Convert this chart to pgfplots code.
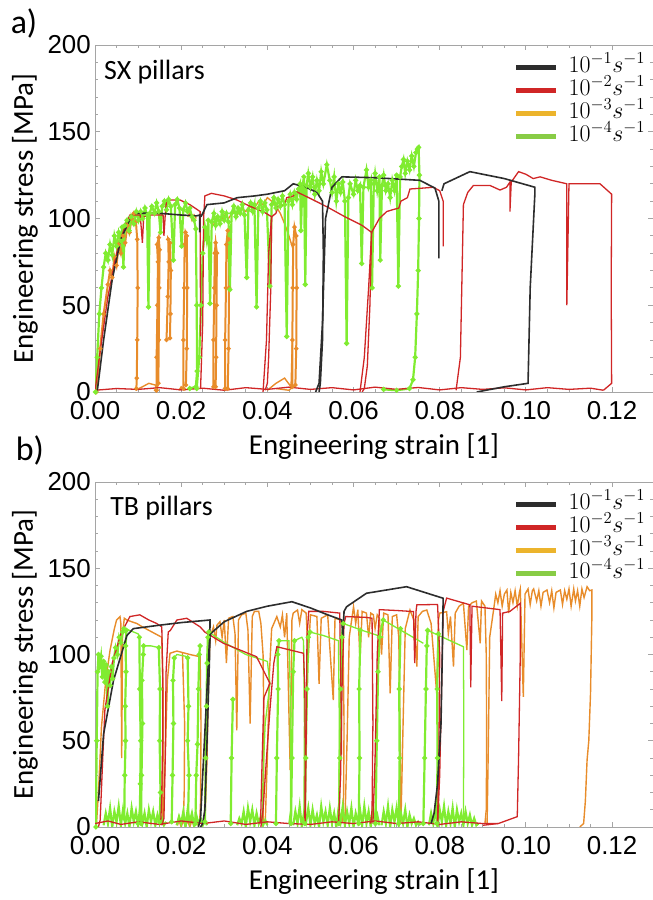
\RequirePackage{fix-cm}
\documentclass[border=0pt]{standalone}
\usepackage{fontspec}
\setmainfont{Carlito}
\newfontfamily\tickfont{Liberation Sans}
\usepackage{pgfplots}
\pgfplotsset{compat=1.18}

\definecolor{cblk}{RGB}{45,45,45}
\definecolor{cred}{RGB}{208,38,38}
\definecolor{corg}{RGB}{232,140,42}
\definecolor{cgrn}{RGB}{128,236,48}
\definecolor{lorg}{RGB}{236,180,44}
\definecolor{lgrn}{RGB}{136,204,70}
\definecolor{frm}{RGB}{165,165,165}

\pgfplotsset{
  panel/.style={
    scale only axis, width=558bp, xmin=0, xmax=0.1295, ymin=0, ymax=200,
    xtick={0,0.02,...,0.12}, ytick={0,50,...,200},
    minor x tick num=3, minor y tick num=4,
    tick align=inside, major tick length=5bp, minor tick length=3bp,
    axis line style={frm}, tick style={frm, line width=0.8bp},
    scaled x ticks=false,
    xticklabel style={/pgf/number format/fixed, /pgf/number format/fixed zerofill, /pgf/number format/precision=2, inner sep=9bp},
    yticklabel style={inner sep=4bp},
    ticklabel style={font=\tickfont\fontsize{26}{26}\selectfont},
    /pgf/number format/assume math mode=true,
    label style={font=\fontsize{29}{30}\selectfont},
    xlabel={Engineering strain [1]}, ylabel={Engineering stress [MPa]},
    ylabel style={at={(axis description cs:-0.1254,0.5)}, anchor=center},
    legend image code/.code={\draw[#1] (0bp,0bp) -- (40bp,0bp);},
    legend cell align=left,
    legend style={draw=none, fill=none, anchor=north east,
      at={(axis description cs:0.986,0.97)}, inner sep=0pt,
      column sep=10bp, row sep=0pt, font=\fontsize{24}{24}\selectfont,
      nodes={inner sep=0pt, text height=17bp, text depth=6bp}},
  },
  sblk/.style={color=cblk, line width=1.6bp, forget plot},
  sred/.style={color=cred, line width=1.3bp, forget plot},
  sorg/.style={color=corg, line width=1.4bp, forget plot},
  sorb/.style={color=corg, line width=2bp, mark=*, mark size=1.1bp, mark options={solid}, forget plot},
  sgrn/.style={color=cgrn, line width=2.2bp, mark=*, mark size=1.3bp, mark options={solid}, forget plot},
  sgrt/.style={color=cgrn, line width=1.3bp, forget plot},
  sgrz/.style={color=cgrn, line width=2.2bp, forget plot},
}

\begin{document}
\begin{tikzpicture}
\path[use as bounding box] (0bp,0bp) rectangle (653bp,900bp);

% ---------------- a) SX pillars ----------------
\begin{axis}[panel, at={(95bp,508bp)}, anchor=south west, height=347bp,
  xlabel style={at={(axis description cs:0.5,-0.1585)}, anchor=center}]
\addlegendimage{color=cblk, line width=5bp}\addlegendentry{$10^{-1}s^{-1}$}
\addlegendimage{color=cred, line width=5bp}\addlegendentry{$10^{-2}s^{-1}$}
\addlegendimage{color=lorg, line width=5bp}\addlegendentry{$10^{-3}s^{-1}$}
\addlegendimage{color=lgrn, line width=5bp}\addlegendentry{$10^{-4}s^{-1}$}

% 10^-3
\addplot[sorb] coordinates {(0.0003,0) (0.0012,25) (0.002,45) (0.003,62) (0.0035,70) (0.004,66) (0.0045,78) (0.005,73) (0.0055,85) (0.006,80) (0.0065,90) (0.007,86) (0.0075,96) (0.008,92) (0.0085,100) (0.009,103) (0.0095,98) (0.0098,88) (0.0099,60) (0.0098,30) (0.0097,8) (0.0096,2)};
\addplot[sorg] coordinates {(0.0094,1) (0.011,3) (0.0125,5) (0.014,4) (0.0143,1)};
\addplot[sorb] coordinates {(0.0143,1) (0.0143,20) (0.0145,50) (0.0146,75) (0.0144,85) (0.0148,89) (0.0150,82) (0.0149,60) (0.0148,30) (0.0147,5) (0.0142,1)};
\addplot[sorb] coordinates {(0.0166,30) (0.0169,55) (0.0171,75) (0.0170,88) (0.0174,86) (0.0176,70) (0.0175,45) (0.0174,31)};
\addplot[sorb] coordinates {(0.0205,2) (0.0205,30) (0.0207,60) (0.0208,85) (0.0210,92) (0.0213,90) (0.0214,60) (0.0213,25) (0.0211,4)};
\addplot[sorg] coordinates {(0.0195,1) (0.020,3) (0.0205,2) (0.021,1)};
\addplot[sorb] coordinates {(0.0275,3) (0.0275,30) (0.0277,60) (0.0278,80) (0.0280,86) (0.0283,80) (0.0282,50) (0.0281,20) (0.028,3)};
\addplot[sorb] coordinates {(0.0302,2) (0.0302,30) (0.0304,60) (0.0305,85) (0.0308,93) (0.031,88) (0.0311,60) (0.031,25) (0.0308,2)};
\addplot[sorg] coordinates {(0.0400,1) (0.042,5) (0.044,8) (0.0455,3) (0.0458,30)};
\addplot[sorb] coordinates {(0.0458,3) (0.0458,30) (0.0459,60) (0.046,85) (0.0463,95) (0.0467,90) (0.0468,60) (0.0467,25) (0.0465,4)};
\addplot[sorg] coordinates {(0.0465,4) (0.045,1) (0.042,2)};
\addplot[sorg] coordinates {(0.0215,101) (0.022,103) (0.0225,99) (0.023,102) (0.0235,100)};
\addplot[sorg] coordinates {(0.0275,96) (0.028,100) (0.029,98) (0.030,102) (0.031,100) (0.032,104) (0.033,102) (0.034,106) (0.035,104) (0.036,108) (0.037,106) (0.038,110) (0.039,108) (0.040,112) (0.041,110) (0.042,107) (0.043,103) (0.044,97) (0.045,90) (0.046,82)};

% 10^-4
\addplot[sgrn] coordinates {(0.0001,0) (0.0005,20) (0.001,45) (0.0015,60) (0.002,72) (0.0025,80) (0.003,76) (0.0035,85) (0.004,79) (0.0045,90) (0.005,84) (0.0055,92) (0.006,87) (0.0063,95) (0.0066,72) (0.0069,96) (0.0074,99) (0.0079,93) (0.0084,101) (0.009,97) (0.0096,104) (0.0101,99) (0.0106,104) (0.0111,100) (0.0116,106) (0.0121,102) (0.0124,49) (0.0127,103) (0.0132,107) (0.0138,103) (0.0143,109) (0.0148,104) (0.0152,92) (0.0156,107) (0.0161,110) (0.0166,105) (0.0171,111) (0.0176,107) (0.0182,76) (0.0186,108) (0.0191,111) (0.0196,106) (0.0201,84) (0.0205,105) (0.021,109) (0.0215,104) (0.022,106) (0.0225,101) (0.023,99) (0.0234,94) (0.0236,50) (0.0237,12) (0.0234,3) (0.022,2)};
\addplot[sgrn] coordinates {(0.0236,2) (0.0242,20) (0.0246,50) (0.025,80) (0.0255,95) (0.0259,88) (0.0263,99) (0.0267,51) (0.0271,98) (0.0276,103) (0.028,96) (0.0285,101) (0.029,97) (0.0295,104) (0.03,99) (0.0305,103) (0.031,98) (0.0313,59) (0.0317,103) (0.0322,107) (0.0327,101) (0.0332,106) (0.0337,103) (0.0342,108) (0.0347,102) (0.0352,66) (0.0356,105) (0.0361,109) (0.0366,104) (0.037,108) (0.0375,49) (0.0379,106) (0.0384,110) (0.0389,104) (0.0394,109) (0.0399,105) (0.0406,61) (0.041,108) (0.0415,112) (0.042,106) (0.0425,111) (0.043,107) (0.0435,113) (0.044,108) (0.0445,32) (0.0449,110) (0.0453,114) (0.0458,108) (0.0463,115) (0.0468,111) (0.0472,117) (0.0476,120) (0.0478,93) (0.0481,118) (0.0485,124) (0.0488,62) (0.0491,119) (0.0495,126) (0.05,118) (0.0505,124) (0.051,114) (0.0515,122) (0.052,116) (0.0525,127) (0.053,120) (0.0538,131) (0.0545,122) (0.055,115) (0.0555,124) (0.056,110) (0.0565,120) (0.057,115) (0.0575,121) (0.058,110) (0.0584,28) (0.0588,112) (0.0592,120) (0.060,114) (0.0605,122) (0.061,116) (0.0615,119) (0.0619,74) (0.0623,118) (0.063,128) (0.0635,118) (0.064,122) (0.0643,60) (0.0647,120) (0.065,126) (0.0655,116) (0.066,124) (0.0662,76) (0.0666,119) (0.067,125) (0.0675,116) (0.068,120) (0.0685,112) (0.069,122) (0.0695,116) (0.070,125) (0.0704,61) (0.0708,124) (0.0712,130) (0.0716,134) (0.072,126) (0.0725,133) (0.073,128) (0.0735,136) (0.074,130) (0.0745,138) (0.0748,140) (0.0751,141) (0.0753,125) (0.0752,100) (0.075,70) (0.0747,45) (0.0743,20) (0.0738,7) (0.073,2) (0.070,1) (0.067,1.5)};

% 10^-2
\addplot[sred] coordinates {(0,1) (0.005,2) (0.01,1.5) (0.015,2.5) (0.02,1.2) (0.025,2.2) (0.03,1) (0.035,2.5) (0.04,1.5) (0.045,2.8) (0.05,1.5) (0.055,2.5) (0.06,1.2) (0.065,2.8) (0.07,1.5) (0.075,2.6) (0.08,1.2) (0.085,2.5) (0.09,1.5) (0.095,2.4) (0.1,1.2) (0.105,2.5) (0.11,1.5) (0.115,2.2) (0.118,1)};
\addplot[sred] coordinates {(0,0) (0.001,20) (0.003,55) (0.005,80) (0.007,96) (0.0081,102) (0.0105,102) (0.011,86) (0.0113,101) (0.0125,102) (0.0158,102) (0.016,90) (0.0163,102) (0.0166,110.7) (0.0197,110.7) (0.022,108) (0.0244,104) (0.0245,32)};
\addplot[sred] coordinates {(0.0245,2) (0.025,40) (0.0252,100) (0.0255,113) (0.027,114.5) (0.030,113) (0.0329,110.7) (0.036,107) (0.039,104) (0.041,101) (0.0408,60) (0.0403,20) (0.040,5) (0.0395,1)};
\addplot[sred] coordinates {(0.0390,0) (0.0398,30) (0.0403,80) (0.041,101) (0.042,103) (0.0425,107) (0.044,108) (0.0445,112) (0.046,113) (0.0468,115.4) (0.050,111.5) (0.054,106.5) (0.058,101) (0.062,96) (0.0642,92) (0.0638,50) (0.0632,15) (0.0625,2) (0.062,0)};
\addplot[sred] coordinates {(0.0615,0) (0.0625,20) (0.0635,60) (0.0642,92) (0.066,100) (0.0677,104) (0.069,105) (0.0705,106) (0.071,110) (0.0725,112) (0.0731,117) (0.076,117.5) (0.0785,118) (0.0800,116) (0.0808,110) (0.0808,84)};
\addplot[sred] coordinates {(0.0838,1) (0.0848,20) (0.0852,70) (0.0855,108) (0.0865,115) (0.0878,119) (0.0917,119) (0.094,116.4) (0.0955,118) (0.0963,121) (0.0963,104) (0.0966,121) (0.0983,127) (0.1,125.5) (0.1017,123) (0.1033,124) (0.106,122) (0.1095,120) (0.1095,50) (0.110,120) (0.1172,120) (0.1199,114) (0.1198,60) (0.1199,5) (0.118,1)};

% 10^-1
\addplot[sblk] coordinates {(0.0005,0) (0.002,30) (0.004,65) (0.006,88) (0.008,99) (0.009,103) (0.015,103) (0.020,102) (0.0235,101.5) (0.0243,102) (0.0243,92)};
\addplot[sblk] coordinates {(0.0246,101) (0.026,108) (0.030,109) (0.033,112) (0.037,113) (0.040,114) (0.044,116) (0.046,120) (0.049,118) (0.0515,115) (0.0528,110) (0.053,80) (0.0528,30) (0.0523,5) (0.052,0)};
\addplot[sblk] coordinates {(0.0512,0) (0.052,5) (0.0528,40) (0.0535,100) (0.055,118) (0.0573,124) (0.065,123.5) (0.0754,122) (0.0789,117.5) (0.0798,110) (0.0798,77)};
\addplot[sblk] coordinates {(0.0805,116) (0.081,120) (0.087,127) (0.095,123) (0.1021,118) (0.1021,115) (0.101,60) (0.1005,5) (0.095,3) (0.0886,0)};

\node[anchor=west, inner sep=0pt, font=\fontsize{28}{28}\selectfont] at (axis description cs:0.016,0.922) {SX pillars};
\end{axis}

% ---------------- b) TB pillars ----------------
\begin{axis}[panel, at={(95bp,73bp)}, anchor=south west, height=345bp,
  xlabel style={at={(axis description cs:0.5,-0.1594)}, anchor=center}]
\addlegendimage{color=cblk, line width=5bp}\addlegendentry{$10^{-1}s^{-1}$}
\addlegendimage{color=cred, line width=5bp}\addlegendentry{$10^{-2}s^{-1}$}
\addlegendimage{color=lorg, line width=5bp}\addlegendentry{$10^{-3}s^{-1}$}
\addlegendimage{color=lgrn, line width=5bp}\addlegendentry{$10^{-4}s^{-1}$}

% 10^-3
\addplot[sorg] coordinates {(0.0003,0) (0.0008,20) (0.0015,58) (0.0025,85) (0.0035,102.6) (0.0045,115) (0.005,120) (0.0058,122) (0.006,118) (0.0062,40) (0.0064,112) (0.0068,121) (0.0074,120) (0.0085,119) (0.0097,118) (0.011,116) (0.0125,114) (0.014,112) (0.0155,110) (0.0158,80) (0.0158,40) (0.0157,10) (0.0155,2)};
\addplot[sorg] coordinates {(0.0158,2) (0.0163,40) (0.0168,85) (0.0174,100.7) (0.019,102) (0.0205,101) (0.022,100) (0.0244,98.7) (0.0246,60) (0.0245,15) (0.0243,3)};
\addplot[sorg] coordinates {(0.0203,101) (0.0208,60) (0.0207,20) (0.0205,3)};
\addplot[sorg, line width=2.5bp] coordinates {(0.019,1) (0.0195,5) (0.020,1) (0.0205,5) (0.021,1) (0.0215,5) (0.022,1) (0.0225,5) (0.023,1) (0.0235,5) (0.024,1)};
\addplot[sorg] coordinates {(0.0255,2) (0.026,40) (0.0264,90) (0.0267,110) (0.0275,116) (0.028,108) (0.0283,117) (0.029,119) (0.0295,110) (0.030,120) (0.0305,95) (0.031,121) (0.032,122) (0.0325,112) (0.0329,56) (0.0333,120) (0.034,123) (0.035,124) (0.0355,114) (0.036,60) (0.0365,122) (0.037,125) (0.038,125) (0.0385,118) (0.039,100) (0.0392,60) (0.0391,20) (0.039,3)};
\addplot[sorg] coordinates {(0.0395,2) (0.040,40) (0.0405,90) (0.041,115) (0.0422,122) (0.043,116) (0.0435,123) (0.044,110) (0.0445,124) (0.0453,33) (0.0457,120) (0.046,124) (0.047,125.8) (0.0475,118) (0.048,126) (0.049,124) (0.0495,98) (0.050,123) (0.0515,122) (0.052,83) (0.0525,121) (0.054,123) (0.0553,73.6) (0.0557,121) (0.057,120) (0.0575,116) (0.0578,60) (0.0577,20) (0.0575,3)};
\addplot[sorg] coordinates {(0.058,2) (0.0585,50) (0.059,110) (0.060,127.7) (0.0605,118) (0.061,126) (0.0615,96.8) (0.062,125) (0.063,124) (0.0635,110) (0.064,124) (0.0646,123) (0.065,115) (0.0655,123) (0.066,121) (0.0665,100) (0.067,124) (0.068,123) (0.0685,77.5) (0.069,122) (0.070,123) (0.0705,110) (0.0708,58) (0.071,20) (0.0708,3)};
\addplot[sorg] coordinates {(0.071,2) (0.0715,60) (0.072,115) (0.0731,125.8) (0.074,120) (0.0747,93) (0.075,122) (0.076,125) (0.077,125.8) (0.078,118) (0.0793,77.5) (0.0797,120) (0.080,124) (0.0816,124.8) (0.082,112) (0.0825,122) (0.0832,93) (0.0836,124) (0.0845,128) (0.0855,129.7) (0.0863,102.6) (0.0867,128) (0.0875,130) (0.0885,131) (0.0894,106.5) (0.0897,131) (0.0905,128) (0.0908,100) (0.0909,50) (0.0908,10) (0.0905,2)};
\addplot[sorg] coordinates {(0.0910,2) (0.0913,50) (0.0916,110) (0.0925,125.8) (0.093,135) (0.0935,130) (0.094,137) (0.0945,128) (0.095,135) (0.0956,137.4) (0.096,124) (0.0965,136) (0.097,130) (0.0975,137) (0.098,128) (0.0985,136) (0.0987,138) (0.0994,75.5) (0.0998,135) (0.1005,138) (0.101,129) (0.1015,137) (0.1018,138) (0.1025,131) (0.103,137) (0.1035,128) (0.104,136) (0.1049,137.4) (0.1055,130) (0.106,137) (0.1065,127) (0.107,136) (0.108,137.4) (0.1085,129) (0.109,137) (0.1095,132) (0.110,138) (0.1105,128) (0.1111,138) (0.1115,131) (0.112,137) (0.1125,128) (0.113,138) (0.1135,133) (0.1142,139.3) (0.1148,137) (0.1153,137.4) (0.1153,120) (0.115,77.5) (0.1146,50) (0.1142,38.8) (0.1138,15) (0.1134,2) (0.1125,0)};

% 10^-4 : noise near zero
\addplot[sgrz] coordinates {(0.0020,1) (0.0025,8) (0.0030,2) (0.0035,11) (0.0040,0) (0.0045,9) (0.0050,3) (0.0055,12) (0.0060,1) (0.0065,10) (0.0070,2) (0.0075,8) (0.0080,0) (0.0085,11) (0.0090,3) (0.0095,9) (0.0100,1) (0.0105,12) (0.0110,2) (0.0115,8) (0.0120,0) (0.0125,10) (0.0130,3) (0.0135,9) (0.0140,1) (0.0145,7) (0.0150,2) (0.0155,5) (0.0160,1) (0.0165,3)};
\addplot[sgrz] coordinates {(0.0190,1) (0.0195,6) (0.0200,2) (0.0205,9) (0.0210,0) (0.0215,10) (0.0220,3) (0.0225,8) (0.0230,1) (0.0235,7) (0.0240,2) (0.0245,5) (0.0250,1) (0.0255,4) (0.0260,1)};
\addplot[sgrz] coordinates {(0.0330,1) (0.0335,5) (0.0340,2) (0.0345,9) (0.0350,0) (0.0355,11) (0.0360,3) (0.0365,10) (0.0370,1) (0.0375,8) (0.0380,2) (0.0385,6) (0.0390,1) (0.0395,4) (0.0400,1)};
\addplot[sgrz] coordinates {(0.0460,1) (0.0465,9) (0.0470,2) (0.0475,12) (0.0480,0) (0.0485,8) (0.0490,3) (0.0495,11) (0.0500,1) (0.0505,10) (0.0510,2) (0.0515,7) (0.0520,0) (0.0525,12) (0.0530,3) (0.0535,9) (0.0540,1) (0.0545,11) (0.0550,2) (0.0555,8) (0.0560,0) (0.0565,10) (0.0570,3) (0.0575,12) (0.0580,1) (0.0585,9) (0.0590,2) (0.0595,11) (0.0600,0) (0.0605,8) (0.0610,3) (0.0615,10) (0.0620,1) (0.0625,12) (0.0630,2) (0.0635,9) (0.0640,0) (0.0645,11) (0.0650,3) (0.0655,7) (0.0660,1)};
\addplot[sgrz] coordinates {(0.0665,1) (0.0670,9) (0.0675,2) (0.0680,12) (0.0685,0) (0.0690,10) (0.0695,3) (0.0700,11) (0.0705,1) (0.0710,8) (0.0715,2) (0.0720,10) (0.0725,0) (0.0730,7) (0.0735,2) (0.0740,5) (0.0745,1) (0.0750,3) (0.0755,1)};
\addplot[sgrz] coordinates {(0.0775,1) (0.0780,8) (0.0785,2) (0.0790,11) (0.0795,0) (0.0800,10) (0.0805,3) (0.0810,12) (0.0815,1) (0.0820,9) (0.0825,2) (0.0830,11) (0.0835,0) (0.0840,10) (0.0845,3) (0.0850,8) (0.0855,1) (0.0860,9) (0.0865,2) (0.0870,7) (0.0875,1) (0.0880,5) (0.0885,1) (0.0890,2)};
% 10^-4 : pillars
\addplot[sgrn] coordinates {(0.0002,0) (0.0004,50) (0.0006,90) (0.0008,100) (0.0011,94) (0.0014,99) (0.0017,87) (0.002,96) (0.0023,84) (0.0026,94) (0.0029,70) (0.0032,90) (0.0035,82) (0.0038,93) (0.0041,86) (0.0044,98) (0.0048,104) (0.0052,100) (0.0056,110) (0.006,107) (0.0064,113) (0.0067,115)};
\addplot[sgrt] coordinates {(0.0067,115) (0.0072,115) (0.008,114) (0.009,113) (0.0100,112) (0.0103,110)};
\addplot[sgrn] coordinates {(0.0103,110) (0.0104,80) (0.0106,50) (0.0105,25) (0.0104,5) (0.010,2)};
\addplot[sgrn] coordinates {(0.0068,5) (0.0069,30) (0.0071,50) (0.0070,70) (0.0072,90) (0.0071,105) (0.0073,114)};
\addplot[sgrn] coordinates {(0.0107,2) (0.0108,30) (0.011,60) (0.0109,85) (0.0112,100) (0.0113,105)};
\addplot[sgrt] coordinates {(0.0113,105) (0.013,105) (0.0148,104)};
\addplot[sgrn] coordinates {(0.0148,104) (0.0151,80) (0.015,50) (0.0152,20) (0.015,3)};
\addplot[sgrn] coordinates {(0.0178,3) (0.0180,30) (0.0182,60) (0.0181,85) (0.0184,98)};
\addplot[sgrt] coordinates {(0.0184,98) (0.019,100) (0.021,99) (0.0215,98)};
\addplot[sgrn] coordinates {(0.0215,98) (0.0217,70) (0.0215,50) (0.0218,30) (0.0216,5)};
\addplot[sgrn] coordinates {(0.0233,2) (0.0235,30) (0.0238,48) (0.0240,80) (0.0242,100) (0.0244,105)};
\addplot[sgrn] coordinates {(0.0255,3) (0.0257,40) (0.0259,70) (0.0260,95) (0.0262,110) (0.0264,113)};
\addplot[sgrt] coordinates {(0.0264,113) (0.030,107) (0.035,100) (0.040,96) (0.0406,83) (0.0395,60) (0.039,30) (0.0388,3)};
\addplot[sgrn] coordinates {(0.0315,2) (0.0317,40) (0.032,74)};
\addplot[sgrn] coordinates {(0.042,2) (0.0422,40) (0.0425,80) (0.0424,100) (0.0427,108)};
\addplot[sgrt] coordinates {(0.0427,108) (0.045,108) (0.0453,80) (0.0454,10) (0.045,2)};
\addplot[sgrn] coordinates {(0.0455,2) (0.0457,40) (0.046,90) (0.0463,108)};
\addplot[sgrt] coordinates {(0.0463,108) (0.048,110) (0.0484,108) (0.0486,60) (0.0485,10) (0.0483,2)};
\addplot[sgrn] coordinates {(0.0487,2) (0.0489,40) (0.0492,80) (0.0495,110) (0.0499,113)};
\addplot[sgrt] coordinates {(0.0499,113) (0.053,111) (0.0565,108) (0.0567,60) (0.0566,2)};
\addplot[sgrn] coordinates {(0.0566,2) (0.0568,40) (0.057,80) (0.0573,110) (0.0576,118)};
\addplot[sgrt] coordinates {(0.0576,118) (0.062,114) (0.0669,110)};
\addplot[sgrn] coordinates {(0.0612,2) (0.0614,40) (0.0613,80) (0.0616,114)};
\addplot[sgrn] coordinates {(0.0651,2) (0.0654,50) (0.0657,90) (0.066,110) (0.0669,120)};
\addplot[sgrt] coordinates {(0.0669,120) (0.0762,106.5)};
\addplot[sgrn] coordinates {(0.0705,2) (0.0707,40) (0.0706,80) (0.0709,115)};
\addplot[sgrn] coordinates {(0.0762,2) (0.0765,40) (0.0768,80) (0.077,105) (0.0772,114)};
\addplot[sgrt] coordinates {(0.0772,114) (0.0855,104.5) (0.0856,60) (0.0855,4)};
\addplot[sgrn] coordinates {(0.0793,2) (0.0795,40) (0.0794,80) (0.0797,112)};

% 10^-2
\addplot[sred] coordinates {(0,2) (0.003,3.5) (0.006,1.5) (0.01,3) (0.015,1.5) (0.02,3.5) (0.025,2) (0.03,3.5) (0.035,1.5) (0.04,3) (0.045,2) (0.05,1.5) (0.055,3) (0.06,2) (0.065,3.5) (0.07,2) (0.075,3) (0.08,1.5) (0.085,3) (0.09,2) (0.0936,2)};
\addplot[sred] coordinates {(0.0008,0) (0.0012,4) (0.0018,40) (0.0023,68) (0.004,95) (0.006,112) (0.0081,122) (0.0104,123) (0.0125,120) (0.0143,118) (0.0155,116) (0.0157,90) (0.0157,50) (0.0155,20) (0.0153,5) (0.015,2)};
\addplot[sred] coordinates {(0.0155,1) (0.016,5) (0.0163,40) (0.0165,90) (0.017,113) (0.0175,114) (0.019,120) (0.0213,121) (0.0244,116) (0.0255,113) (0.0298,106.5) (0.0375,98.7) (0.0406,83.3) (0.0392,75) (0.0388,40) (0.0385,10) (0.0383,2)};
\addplot[sred] coordinates {(0.0385,0) (0.039,10) (0.0398,40) (0.0406,68) (0.0415,95) (0.0422,104.5) (0.0484,100.7) (0.0487,80) (0.0488,40) (0.0487,5)};
\addplot[sred] coordinates {(0.0488,2) (0.049,50) (0.0492,110) (0.0496,125) (0.053,125) (0.0568,124) (0.0572,60) (0.0572,42)};
\addplot[sred] coordinates {(0.0565,1) (0.057,30) (0.0574,90) (0.0578,118) (0.0582,122) (0.063,121.5) (0.0643,121) (0.0645,60) (0.0643,10) (0.064,2)};
\addplot[sred] coordinates {(0.0645,2) (0.065,40) (0.0655,100) (0.066,126) (0.070,125.5) (0.0739,124.9) (0.0742,95) (0.0745,125) (0.0747,128.8) (0.0795,129) (0.080,100) (0.0798,40) (0.0795,3)};
\addplot[sred] coordinates {(0.0795,1) (0.080,30) (0.0805,90) (0.0808,125) (0.0816,132.7) (0.087,128.8) (0.0872,81) (0.0875,128) (0.094,126) (0.0944,73) (0.0946,124) (0.0963,125) (0.0987,129.7) (0.0987,100) (0.0983,40) (0.098,6) (0.0936,2) (0.09,1)};

% 10^-1
\addplot[sblk] coordinates {(0.0008,15) (0.002,54) (0.0043,85) (0.0074,111) (0.0089,115) (0.015,117) (0.020,118.5) (0.0267,120) (0.0266,100) (0.026,50) (0.0255,10) (0.025,2) (0.0245,0)};
\addplot[sblk] coordinates {(0.024,0) (0.0245,5) (0.025,30) (0.0258,70) (0.0265,105) (0.0268,112) (0.030,119) (0.0352,125) (0.040,128) (0.0457,130.6) (0.050,127) (0.054,123) (0.0573,120) (0.0575,110)};
\addplot[sblk] coordinates {(0.0575,110) (0.0578,125) (0.0584,127.7) (0.063,135.5) (0.0723,139.3) (0.0808,132.6) (0.0806,100) (0.0803,60) (0.0795,25) (0.0787,8) (0.078,2)};

\node[anchor=west, inner sep=0pt, font=\fontsize{28}{28}\selectfont] at (axis description cs:0.027,0.925) {TB pillars};
\end{axis}

\node[font=\fontsize{34}{34}\selectfont] at (24bp,877bp) {a)};
\node[font=\fontsize{34}{34}\selectfont] at (30bp,450bp) {b)};
\end{tikzpicture}
\end{document}
